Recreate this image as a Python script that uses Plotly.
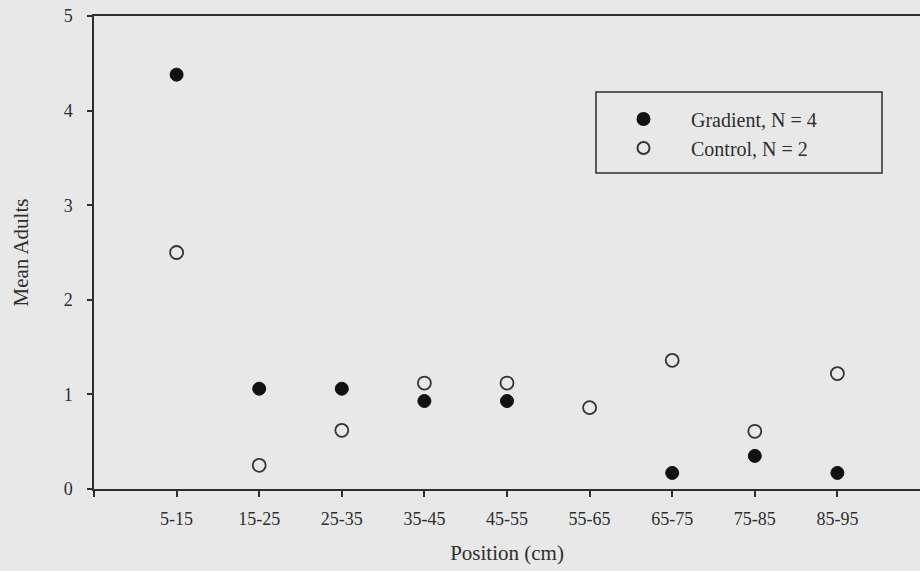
import plotly.graph_objects as go

categories = ["5-15", "15-25", "25-35", "35-45", "45-55", "55-65", "65-75", "75-85", "85-95"]
gradient = [4.38, 1.06, 1.06, 0.93, 0.93, None, 0.17, 0.35, 0.17]
control = [2.50, 0.25, 0.62, 1.12, 1.12, 0.86, 1.36, 0.61, 1.22]
y_ticks = [0, 1, 2, 3, 4, 5]

xpos = list(range(len(categories)))
ink = "#2e2e2e"
bg = "#e8e8e8"
font_family = "Liberation Serif, Times New Roman, serif"

fig = go.Figure()
fig.add_trace(go.Scatter(
    x=xpos, y=gradient, mode="markers", name="Gradient, N = 4",
    marker=dict(symbol="circle", size=13, color="#111111",
                line=dict(color="#111111", width=1)),
))
fig.add_trace(go.Scatter(
    x=xpos, y=control, mode="markers", name="Control, N = 2",
    marker=dict(symbol="circle-open", size=13, color="#333333",
                line=dict(color="#333333", width=1.8)),
))

# legend frame (pixel box converted to paper coordinates)
L, T, W, H = 94, 16, 826, 473
def px(x):
    return (x - L) / W
def py(y):
    return (T + H - y) / H

fig.add_shape(type="rect", xref="paper", yref="paper",
              x0=px(596), x1=px(882), y0=py(173), y1=py(92),
              line=dict(color=ink, width=1.5), fillcolor="rgba(0,0,0,0)")

fig.update_layout(
    width=920, height=571,
    margin=dict(l=L, r=0, t=T, b=571 - T - H),
    paper_bgcolor=bg, plot_bgcolor=bg,
    font=dict(family=font_family, color=ink, size=18),
    showlegend=True,
    legend=dict(
        x=px(596), y=py(99.5), xanchor="left", yanchor="top",
        bgcolor="rgba(0,0,0,0)", borderwidth=0,
        font=dict(family=font_family, size=20, color=ink),
        itemsizing="constant", itemwidth=85,
        tracegroupgap=0,
    ),
    xaxis=dict(
        range=[-1, 9], tickmode="array",
        tickvals=[-1] + xpos, ticktext=[""] + categories,
        showline=True, linecolor=ink, linewidth=1.5, mirror=True,
        ticks="outside", ticklen=6, tickwidth=1.5, tickcolor=ink,
        showgrid=False, zeroline=False,
        tickfont=dict(size=18), ticklabelstandoff=7,
        title=dict(text="Position (cm)", font=dict(size=21), standoff=17),
    ),
    yaxis=dict(
        range=[0, 5], tickmode="array", tickvals=y_ticks,
        showline=True, linecolor=ink, linewidth=1.5,
        ticks="outside", ticklen=5, tickwidth=1.5, tickcolor=ink,
        showgrid=False, zeroline=False,
        tickfont=dict(size=18), ticklabelstandoff=11,
        title=dict(text="Mean Adults", font=dict(size=21), standoff=29),
    ),
)

fig.write_html("out.html")
